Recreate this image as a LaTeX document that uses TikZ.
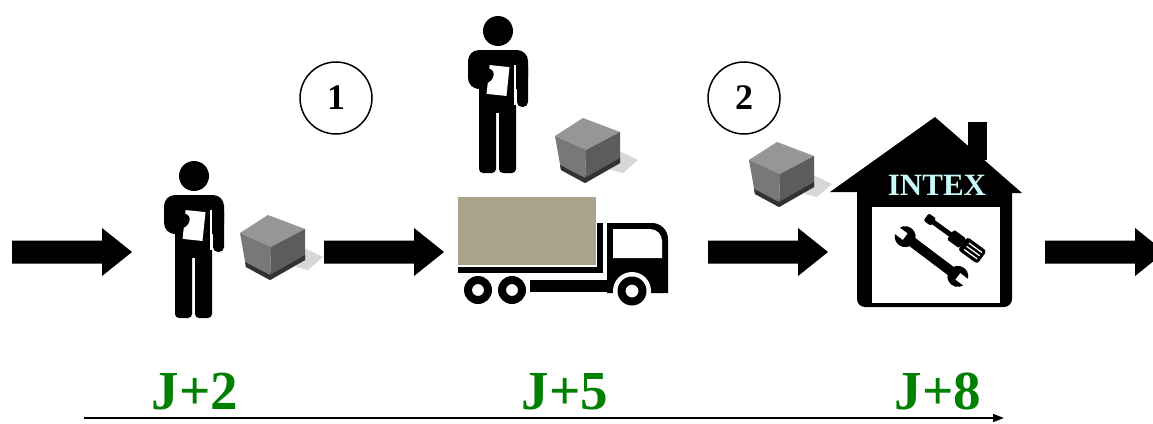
\documentclass[tikz,border=0pt]{standalone}
\usepackage{fontspec}
\setmainfont{Liberation Serif}
\usetikzlibrary{arrows.meta}
\definecolor{daygreen}{RGB}{0,128,0}
\definecolor{cargo}{RGB}{170,164,142}
\definecolor{signcyan}{RGB}{200,250,250}
\definecolor{boxtop}{RGB}{150,150,150}
\definecolor{boxleft}{RGB}{120,120,120}
\definecolor{boxright}{RGB}{92,92,92}
\definecolor{boxshadow}{RGB}{215,215,215}
\definecolor{pallet}{RGB}{50,50,50}

\tikzset{
  blockarrow/.pic={
    \fill (0,-11.5) -- (90,-11.5) -- (90,-24) -- (120,0) -- (90,24) -- (90,11.5) -- (0,11.5) -- cycle;
  },
  worker/.pic={
    % head
    \fill (0,0) circle (15);
    % upper body with left elbow
    \fill[rounded corners=11] (-30,19) rectangle (30,58);
    % right arm hanging down
    \fill[rounded corners=5] (19,30) rectangle (30,76);
    % hips
    \fill (-19,45) rectangle (18,82);
    % legs
    \fill[rounded corners=4] (-19,70) rectangle (-2,142);
    \fill[rounded corners=4] (1,70) rectangle (18,142);
    \draw[white,line width=1.2pt] (17,34) -- (17,74);
    % clipboard and hand
    \fill[white,rotate around={-6:(0,50)}] (-10,35) rectangle (10,64);
    \fill[rounded corners=3] (-29,50) -- (-12,36) -- (-4,40) -- (-5,48) -- (-20,59) -- cycle;
  },
  parcel/.pic={
    \fill[boxshadow] (30,30) -- (55,42) -- (40,55) -- (28,52) -- cycle;
    \fill[boxtop] (0,0) -- (37,14) -- (3,32) -- (-28,18) -- cycle;
    \fill[boxleft] (-28,18) -- (3,32) -- (2,65) -- (-22,52) -- cycle;
    \fill[boxright] (3,32) -- (37,14) -- (37,45) -- (2,65) -- cycle;
    \fill[pallet] (-22,52) -- (2,65) -- (2,60) -- (-23,47) -- cycle;
    \fill[pallet] (2,65) -- (37,45) -- (37,40) -- (2,60) -- cycle;
  },
  daylabel/.style={text=daygreen,font=\fontsize{55}{60}\selectfont\bfseries,anchor=base,inner sep=0pt},
  stagenum/.style={circle,draw,line width=1.5pt,minimum size=72pt,inner sep=0pt,
    font=\fontsize{36}{40}\selectfont\bfseries},
}

\begin{document}
\begin{tikzpicture}[x=1pt,y=-1pt]
\clip (0,0) rectangle (1153,423);
\fill[white] (0,0) rectangle (1153,423);

% flow arrows
\pic at (12,252) {blockarrow};
\pic at (324,252) {blockarrow};
\pic at (708,252) {blockarrow};
\pic at (1045,252) {blockarrow};

% workers
\pic at (194,176) {worker};
\pic at (498,31) {worker};

% parcels
\pic at (268,215) {parcel};
\pic at (583,118) {parcel};
\pic at (777,142) {parcel};

% truck: cargo body and frame
\fill[cargo] (458,197) rectangle (596,265);
\fill (458,267) rectangle (603,273);
\fill (597,223) rectangle (603,273);
% cab
\fill (607,223) -- (652,223) arc[start angle=-90,end angle=0,radius=16] -- (668,293) -- (607,293) -- cycle;
\fill[white] (613,229) -- (650,229) arc[start angle=-90,end angle=0,radius=12] -- (662,258) -- (613,258) -- cycle;
\fill (530,280) rectangle (610,292);
% wheels
\fill[white] (632,291) circle (19);
\fill[even odd rule] (632,291) circle (14.5) (632,291) circle (6.5);
\fill[even odd rule] (478,290) circle (14) (478,290) circle (6);
\fill[even odd rule] (512,290) circle (14) (512,290) circle (6);

% workshop
\fill (830,192) -- (935,117) -- (1022,193) -- (1012,193) -- (1012,299)
  arc[start angle=0,end angle=90,radius=8] -- (865,307)
  arc[start angle=90,end angle=180,radius=8] -- (857,192) -- cycle;
\fill (968,122) rectangle (987,160);
\fill[white] (872,207) rectangle (1000,303);
\node[text=signcyan,font=\fontsize{31}{33}\selectfont\bfseries,anchor=base,inner sep=0pt] (intex) at (937,195) {INTEX};

% screwdriver
\begin{scope}[shift={(954.5,237.5)},rotate=-36]
  \fill[rounded corners=2] (-35,-4.5) rectangle (-26,4.5);
  \fill (-27,-2.5) rectangle (-4,2.5);
  \fill[rounded corners=1.5] (-5,-6) rectangle (10,6);
  \fill[rounded corners=3] (10,-8) rectangle (34,8);
  \foreach \s in {-4,0,4} \draw[white,line width=1.3pt] (15,\s) -- (31,\s);
\end{scope}
% wrench
\begin{scope}[shift={(931.5,256.5)},rotate=-37]
  \fill (-30,-5) rectangle (30,5);
  \fill (-33,0) circle (10.5);
  \fill (33,0) circle (10.5);
  \fill[white] (-45,-4) rectangle (-33,4);
  \fill[white] (33,-4) rectangle (45,4);
\end{scope}

% stage numbers
\node[stagenum] (s1) at (336,98) {1};
\node[stagenum] (s2) at (744,98) {2};

% time axis
\node[daylabel] (j2) at (195,409) {J+2};
\node[daylabel] (j5) at (565,409) {J+5};
\node[daylabel] (j8) at (938,409) {J+8};
\coordinate (t0) at (84,418);
\coordinate (t1) at (1004,418);
\draw[line width=1.5pt,-{Triangle[length=11pt,width=8pt]}] (t0) -- (t1);
\end{tikzpicture}
\end{document}
